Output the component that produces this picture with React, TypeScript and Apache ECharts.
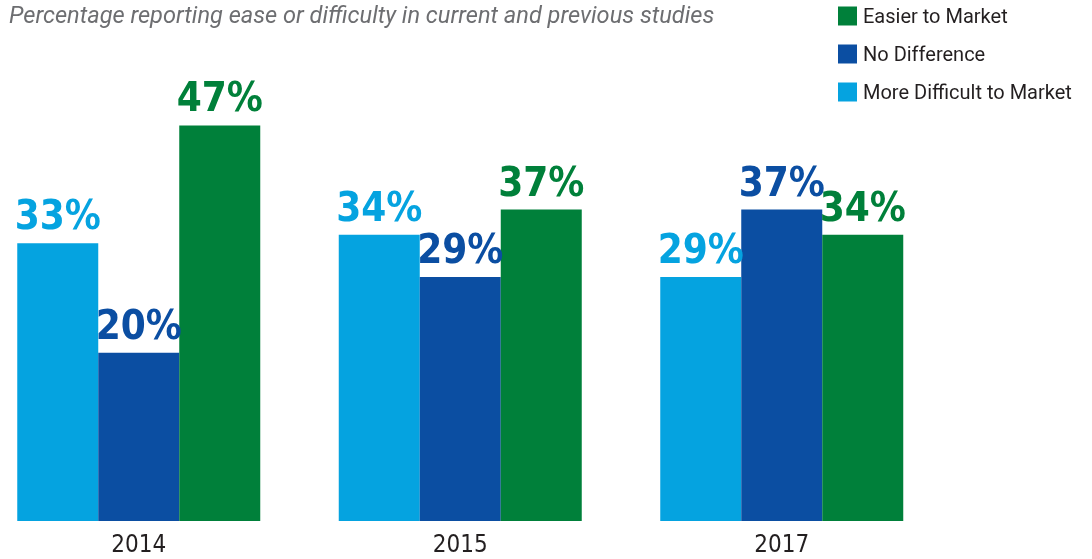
import React, { useEffect, useRef } from "react";
import * as echarts from "echarts";

const years = ["2014", "2015", "2017"];
const moreDifficult = [33, 34, 29];
const noDifference = [20, 29, 37];
const easier = [47, 37, 34];
const seriesNames = ["More Difficult to Market", "No Difference", "Easier to Market"];
const subtitle = "Percentage reporting ease or difficulty in current and previous studies";

const colors = ["#05A3E0", "#0B4EA2", "#00803A"];
const condensed = "'DejaVu Sans Condensed', 'DejaVu Sans', sans-serif";

export default function App() {
  const ref = useRef<HTMLDivElement>(null);
  useEffect(() => {
    if (!ref.current) return;
    const chart = echarts.init(ref.current, null, { renderer: "svg" });
    const data = [moreDifficult, noDifference, easier];
    chart.setOption({
      animation: false,
      title: {
        text: subtitle,
        left: 9,
        top: 0,
        padding: 0,
        textStyle: {
          fontFamily: "Roboto",
          fontStyle: "italic",
          fontWeight: "normal",
          fontSize: 23.6,
          lineHeight: 30,
          color: "#6d6e71",
        },
      },
      legend: {
        data: [seriesNames[2], seriesNames[1], seriesNames[0]],
        orient: "vertical",
        left: 833,
        top: 1,
        itemWidth: 19,
        itemHeight: 19,
        itemGap: 18,
        icon: "rect",
        textStyle: { fontFamily: "Roboto", fontSize: 20, color: "#231f20", padding: [0, 0, 0, 1] },
      },
      grid: { left: -22, right: 149.5, top: 16, bottom: 38, outerBoundsMode: "none" },
      xAxis: {
        type: "category",
        data: years,
        axisLine: { show: false },
        axisTick: { show: false },
        axisLabel: {
          margin: 11,
          fontFamily: condensed,
          fontSize: 24,
          color: "#231f20",
        },
      },
      yAxis: { type: "value", min: 0, max: 60, show: false, splitLine: { show: false } },
      series: seriesNames.map((name, i) => ({
        name,
        type: "bar",
        data: data[i],
        barWidth: 81,
        barGap: "0%",
        itemStyle: { color: colors[i] },
        label: {
          show: true,
          position: "top",
          distance: 8,
          formatter: "{c}%",
          fontFamily: condensed,
          fontWeight: "bold",
          fontSize: 40,
          color: colors[i],
        },
      })),
    });
    return () => chart.dispose();
  }, []);
  return (
    <div
      ref={ref}
      style={{ position: "fixed", left: 0, top: 0, width: 1092, height: 559 }}
    />
  );
}
